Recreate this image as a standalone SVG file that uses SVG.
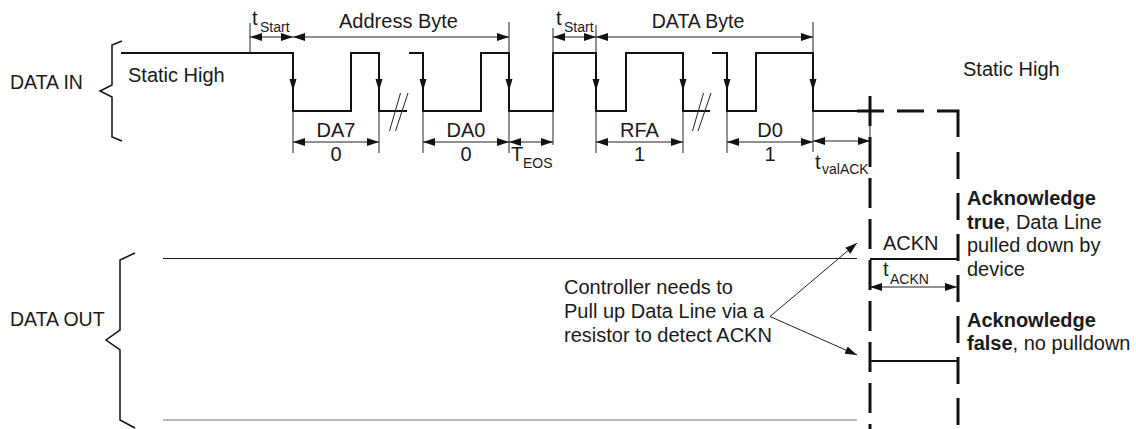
<svg xmlns="http://www.w3.org/2000/svg" width="1136" height="429" viewBox="0 0 1136 429">
<style>
text{font-family:"Liberation Sans",Arial,sans-serif;font-size:20px;fill:#1a1a1a}
.sub{font-size:14px}
.b{font-weight:bold}
.mid{text-anchor:middle}
.wave{fill:none;stroke:#111;stroke-width:2}
.thin{fill:none;stroke:#222;stroke-width:1}
.dim{fill:none;stroke:#222;stroke-width:1;marker-start:url(#ah);marker-end:url(#ah)}
.dash{fill:none;stroke:#111;stroke-width:3}
.brace{fill:none;stroke:#111;stroke-width:1.5}
</style>
<defs>
<marker id="ah" markerUnits="userSpaceOnUse" markerWidth="12" markerHeight="8" refX="12" refY="4" orient="auto-start-reverse"><path d="M0,0 L12,4 L0,8 z" fill="#111"/></marker>
<marker id="pa" markerUnits="userSpaceOnUse" markerWidth="12" markerHeight="8" refX="12" refY="4" orient="auto"><path d="M0,0 L12,4 L0,8 z" fill="#111"/></marker>
<path id="dn" d="M-3.5,-12 L3.5,-12 L0,0 z" fill="#111"/>
</defs>

<g id="data-in">
<path class="brace" d="M122,41 L112,45 V85 L100,91 L112,97 V137 L122,141"/>
<text x="10" y="89" style="font-size:19.5px">DATA IN</text>
<text x="128" y="82">Static High</text>
</g>

<g id="waveform">
<path class="wave" d="M121,53 H293 V111 H351 V53 H379 V111 H407"/>
<path class="wave" d="M409,53 H423 V111 H481 V53 H509 V111 H553 V53 H596 V111 H626 V53 H683 V111 H710"/>
<path class="wave" d="M712,53 H727 V111 H756 V53 H813 V111 H857"/>
<path class="thin" d="M389.5,131 L400.5,93 M395.5,131 L408,93 M692.5,131 L703.5,93 M698,131 L711,93"/>
<use href="#dn" x="293" y="91"/>
<use href="#dn" x="379" y="91"/>
<use href="#dn" x="423" y="91"/>
<use href="#dn" x="509" y="91"/>
<use href="#dn" x="596" y="91"/>
<use href="#dn" x="683" y="91"/>
<use href="#dn" x="727" y="91"/>
<use href="#dn" x="813" y="91"/>
</g>

<g id="ticks">
<path class="thin" d="M250,23 V53 M509,22 V53 M553,28 V53 M596,25 V53 M813,22 V53"/>
<path class="thin" d="M293,111 V153 M379,111 V153 M423,111 V153 M509,111 V153 M553,111 V145 M596,111 V153 M683,111 V153 M727,111 V153 M813,111 V152 M870,111 V145"/>
</g>

<g id="dimensions">
<path class="dim" d="M250,37 H293"/>
<path class="dim" d="M293,37 H509"/>
<path class="dim" d="M553,37 H596"/>
<path class="dim" d="M596,37 H813"/>
<path class="dim" d="M293,142 H379"/>
<path class="dim" d="M423,142 H509"/>
<path class="dim" d="M509,142 H553"/>
<path class="dim" d="M596,142 H683"/>
<path class="dim" d="M727,142 H813"/>
<path class="dim" d="M813,141 H870"/>
<path class="dim" d="M870,287 H957"/>
</g>

<g id="labels">
<text x="252" y="25">t<tspan class="sub" x="260" y="31.5">Start</tspan></text>
<text x="398.5" y="28" class="mid">Address Byte</text>
<text x="556" y="25">t<tspan class="sub" x="564" y="31.5">Start</tspan></text>
<text x="698" y="28" class="mid" style="font-size:19.5px">DATA Byte</text>
<text x="336" y="136.5" class="mid">DA7</text>
<text x="336" y="160.5" class="mid">0</text>
<text x="466" y="136.5" class="mid">DA0</text>
<text x="466" y="160.5" class="mid">0</text>
<text x="639.5" y="136.5" class="mid">RFA</text>
<text x="639.5" y="160.5" class="mid">1</text>
<text x="770" y="136.5" class="mid">D0</text>
<text x="770" y="160.5" class="mid">1</text>
<text x="511" y="161">T<tspan class="sub" x="523" y="168">EOS</tspan></text>
<text x="815" y="169">t<tspan class="sub" x="822" y="173.5">valACK</tspan></text>
<text x="963" y="76">Static High</text>
</g>

<g id="ack-window">
<path class="dash" d="M857,111 H884 M897,111 H924 M937,111 H958 V137"/>
<path class="dash" d="M870,96 V429" stroke-dasharray="30 11"/>
<path class="dash" d="M958,152 V429" stroke-dasharray="27 14"/>
<path class="wave" d="M870,259 H957 M870,361 H957"/>
<text x="883" y="250">ACKN</text>
<text x="883" y="276">t<tspan class="sub" x="890" y="283.5">ACKN</tspan></text>
</g>

<g id="data-out">
<path class="brace" d="M135,253 L120,260 V330 L106,340 L120,350 V420 L135,428"/>
<text x="10" y="326" style="font-size:19.5px">DATA OUT</text>
<path class="thin" d="M163,258.5 H857"/>
<path d="M163,420 H857" stroke="#777" stroke-width="1.2" fill="none"/>
</g>

<g id="note">
<text x="564" y="294">Controller needs to</text>
<text x="564" y="318">Pull up Data Line via a</text>
<text x="564" y="341.5">resistor to detect ACKN</text>
<path class="thin" d="M770,316.5 L857,243" marker-end="url(#pa)"/>
<path class="thin" d="M770,316.5 L857,355" marker-end="url(#pa)"/>
</g>

<g id="ack-text">
<text x="967" y="205" class="b">Acknowledge</text>
<text x="967" y="228.5"><tspan class="b">true</tspan>, Data Line</text>
<text x="967" y="252">pulled down by</text>
<text x="967" y="276">device</text>
<text x="967" y="326.5" class="b">Acknowledge</text>
<text x="967" y="350"><tspan class="b">false</tspan>, no pulldown</text>
</g>
</svg>
